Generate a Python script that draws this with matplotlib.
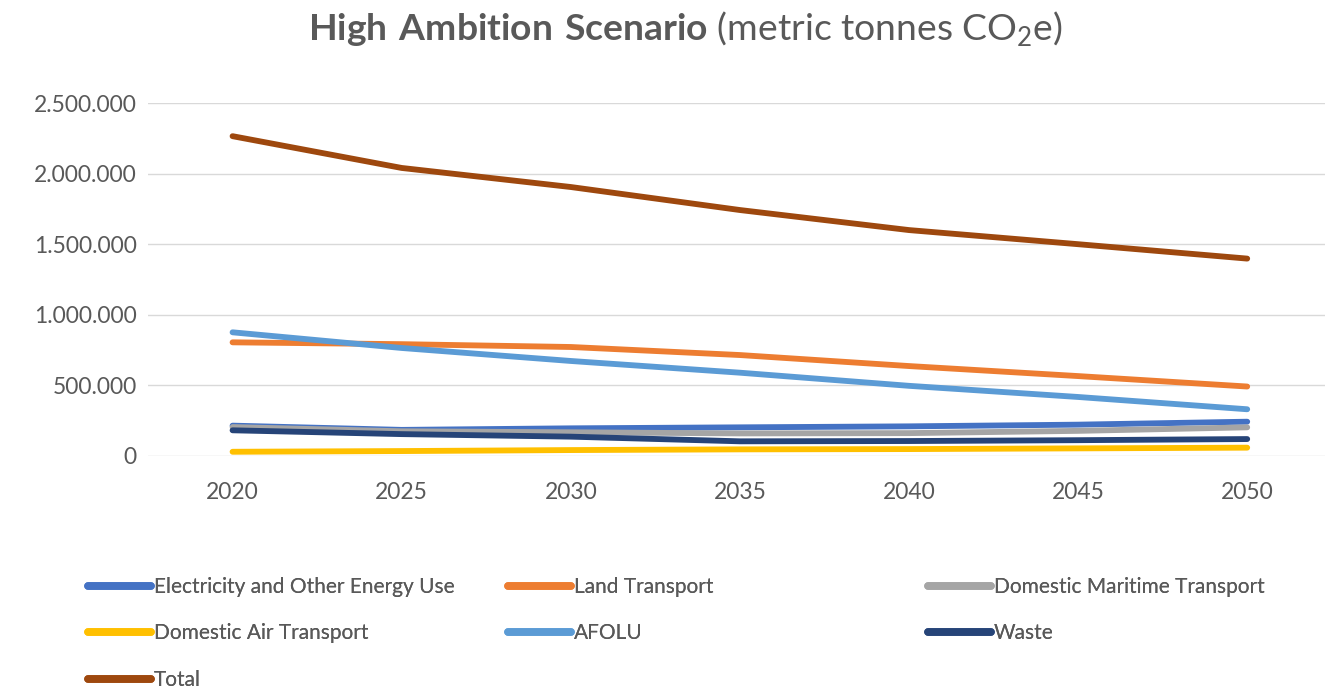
import matplotlib
matplotlib.use("Agg")
import matplotlib.pyplot as plt
from matplotlib.ticker import FuncFormatter
from matplotlib.lines import Line2D

years = [2020, 2025, 2030, 2035, 2040, 2045, 2050]
electricity = [215000, 185000, 196000, 203000, 210000, 222000, 243000]
land_transport = [805000, 792000, 772000, 715000, 637000, 566000, 492000]
maritime = [205000, 175000, 168000, 160000, 162000, 178000, 203000]
air = [30000, 35000, 42000, 47000, 49000, 54000, 59000]
afolu = [876000, 765000, 673000, 590000, 497000, 418000, 331000]
waste = [182000, 155000, 137000, 104000, 106000, 112000, 120000]
total = [2265000, 2040000, 1905000, 1742000, 1600000, 1500000, 1398000]

names = ["Electricity and Other Energy Use", "Land Transport", "Domestic Maritime Transport",
         "Domestic Air Transport", "AFOLU", "Waste", "Total"]
series = [electricity, land_transport, maritime, air, afolu, waste, total]
colors = ["#4472C4", "#ED7D31", "#A5A5A5", "#FFC000", "#5B9BD5", "#264478", "#9E480E"]

plt.rcParams['font.family'] = ['Lato', 'DejaVu Sans']
plt.rcParams['mathtext.fontset'] = 'custom'
plt.rcParams['mathtext.rm'] = 'Lato'
plt.rcParams['mathtext.bf'] = 'Lato:bold'

W, H = 1325, 689
fig = plt.figure(figsize=(W / 100, H / 100), dpi=100)
ax = fig.add_axes([148 / W, (H - 456) / H, (1325 - 148) / W, 353 / H])

lines = {}
for name, vals, c in zip(names, series, colors):
    ln, = ax.plot(years, vals, color=c, lw=4.2, solid_capstyle='round', label=name)
    lines[name] = ln

ax.set_xlim(2017.5, 2052.3)
ax.set_ylim(0, 2500000)
ax.set_xticks(years)
ax.set_yticks([0, 500000, 1000000, 1500000, 2000000, 2500000])
ax.yaxis.set_major_formatter(FuncFormatter(lambda v, p: f"{int(v):,}".replace(",", ".")))
ax.grid(axis='y', color='#D9D9D9', lw=1)
ax.set_axisbelow(True)
for s in ax.spines.values():
    s.set_visible(False)
ax.tick_params(axis='both', length=0, labelsize=16.5, colors='#595959')
ax.tick_params(axis='y', pad=8)
ax.tick_params(axis='x', pad=19)

fig.text(0.517, 1 - 29 / H,
         r"$\mathbf{High\ Ambition\ Scenario}$ (metric tonnes CO$_2$e)",
         ha='center', va='center', fontsize=26.8, color='#595959')

cols = [["Electricity and Other Energy Use", "Domestic Air Transport", "Total"],
        ["Land Transport", "AFOLU"],
        ["Domestic Maritime Transport", "Waste"]]
xs = [88, 508, 928]
for col, x in zip(cols, xs):
    handles = [Line2D([], [], color=lines[n].get_color(), lw=5.5, solid_capstyle='round') for n in col]
    leg = fig.legend(handles, col, loc='upper left', bbox_to_anchor=(x / W, 1 - 577 / H),
                     frameon=False, fontsize=15, handlelength=3.0, handletextpad=0.15,
                     labelspacing=1.27, borderpad=0, borderaxespad=0, labelcolor='#595959')
    fig.add_artist(leg)

fig.savefig("out.png", dpi=100)
